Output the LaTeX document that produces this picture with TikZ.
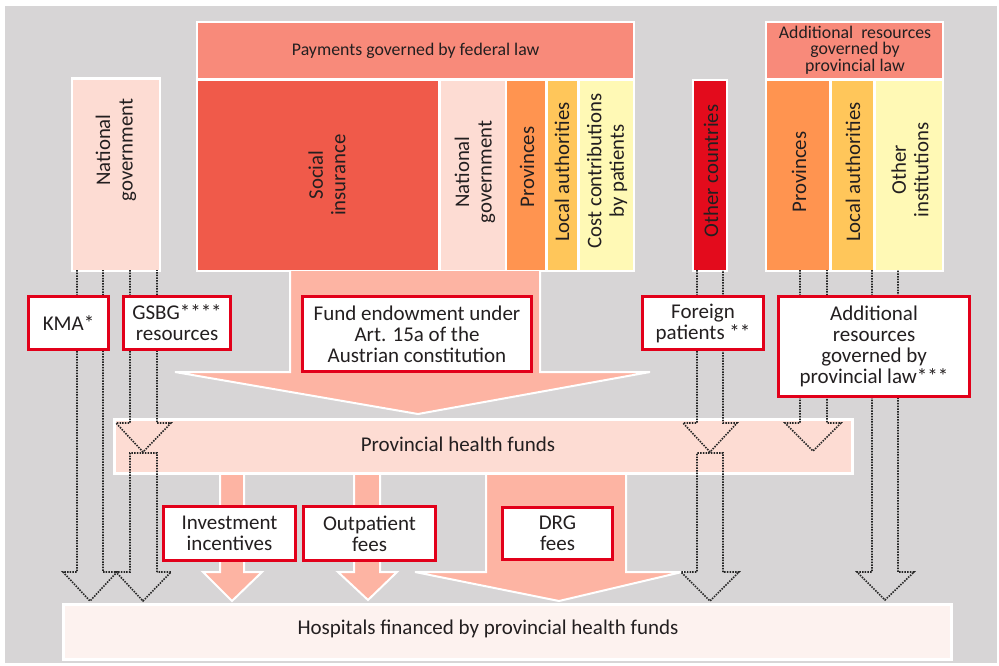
\documentclass[tikz,border=0pt]{standalone}
\usepackage{fontspec}
\setmainfont{Carlito}
\definecolor{bg}{HTML}{D7D5D6}
\definecolor{lpink}{HTML}{FDDCD3}
\definecolor{salmon}{HTML}{F88A7A}
\definecolor{socred}{HTML}{F05A4A}
\definecolor{orng}{HTML}{FF9450}
\definecolor{yorng}{HTML}{FFC65A}
\definecolor{lyel}{HTML}{FFF9B5}
\definecolor{cred}{HTML}{E30B1C}
\definecolor{arrowc}{HTML}{FDB4A3}
\definecolor{hosp}{HTML}{FDF2EF}
\definecolor{redb}{HTML}{E2001A}
\definecolor{txt}{HTML}{231F20}
\begin{document}
\begin{tikzpicture}[x=1pt,y=-1pt]
\tikzset{
 backing/.style={fill=white, draw=none},
 blk/.style={draw=none, inner sep=0pt, anchor=north west},
 vtxt/.style={rotate=90, align=center, inner sep=0pt, font=\fontsize{20.8}{22.5}\selectfont, text=txt},
 htxt/.style={align=center, inner sep=0pt, font=\fontsize{21}{21}\selectfont, text=txt},
 hdtxt/.style={align=center, inner sep=0pt, font=\fontsize{17.8}{16.5}\selectfont, text=txt},
 lbl/.style={draw=redb, line width=3pt, fill=white, inner sep=0pt, align=center, font=\fontsize{21}{21}\selectfont, text=txt},
 framebox/.style={draw=white, line width=2.5pt, inner sep=0pt, anchor=north west},
 dots/.style={draw=black!85, line width=1.6pt, dash pattern=on 1.5pt off 1.2pt, line join=miter},
 bigarrow/.style={fill=arrowc, draw=white, line width=2pt, line join=miter},
}
% background
\fill[white] (0,0) rectangle (999,665);
\useasboundingbox (0,0) rectangle (999,665);
\fill[bg] (5,6) rectangle (997,663);

% white backings of top groups
\fill[backing] (71,77) rectangle (161,272);
\fill[backing] (196,21) rectangle (635,272);
\fill[backing] (692,79) rectangle (728,272);
\fill[backing] (765,21) rectangle (944,272);

% national government (left)
\node[blk, fill=lpink, minimum width=86pt, minimum height=190pt] (ng) at (73,80) {};
\node[vtxt] (ngt) at (116,150) {National\\government};

% federal law block
\node[blk, fill=salmon, minimum width=435pt, minimum height=55pt] (fed) at (198,23) {};
\node[hdtxt] (fedt) at (fed.center) {Payments governed by federal law};
\node[blk, fill=socred, minimum width=240pt, minimum height=189pt] (si) at (198,81) {};
\node[vtxt] (sit) at (327,175) {Social\\insurance};
\node[blk, fill=lpink, minimum width=64pt, minimum height=189pt] (ngf) at (441,81) {};
\node[vtxt] (ngft) at (475,172) {National\\government};
\node[blk, fill=orng, minimum width=38pt, minimum height=189pt] (pv) at (507,81) {};
\node[vtxt] (pvt) at (527,167) {Provinces};
\node[blk, fill=yorng, minimum width=29pt, minimum height=189pt] (la) at (548,81) {};
\node[vtxt] (lat) at (562,172) {Local authorities};
\node[blk, fill=lyel, minimum width=53pt, minimum height=189pt] (cc) at (580,81) {};
\node[vtxt] (cct) at (607,171) {Cost contributions\\by patients};

% other countries
\node[blk, fill=cred, minimum width=32pt, minimum height=189pt] (oc) at (694,81) {};
\node[vtxt] (oct) at (711,171) {Other countries};

% additional resources block
\node[blk, fill=salmon, minimum width=175pt, minimum height=55pt] (addh) at (767,23) {};
\node[hdtxt] (addht) at (855,50) {Additional\ \ resources\\governed by\\provincial law};
\node[blk, fill=orng, minimum width=62pt, minimum height=189pt] (pv2) at (767,81) {};
\node[vtxt] (pv2t) at (799,172) {Provinces};
\node[blk, fill=yorng, minimum width=41pt, minimum height=189pt] (la2) at (832,81) {};
\node[vtxt] (la2t) at (853,172) {Local authorities};
\node[blk, fill=lyel, minimum width=66pt, minimum height=189pt] (oi) at (876,81) {};
\node[vtxt] (oit) at (910,170) {Other\\institutions};

% solid arrows
\draw[bigarrow] (290,271) -- (290,372) -- (175,372) -- (418,414) -- (650,372) -- (540,372) -- (540,271);
\draw[bigarrow] (220,472) -- (220,572) -- (203,572) -- (232,601) -- (262,572) -- (244,572) -- (244,472);
\draw[bigarrow] (354,472) -- (354,572) -- (338,572) -- (368,600) -- (397,572) -- (380,572) -- (380,472);
\draw[bigarrow] (486,472) -- (486,572) -- (415,572) -- (559,601) -- (682,572) -- (626,572) -- (626,472);

% provincial health funds and hospitals
\node[framebox, fill=lpink, minimum width=738pt, minimum height=54pt] (phf) at (113,418) {};
\node[htxt] (phft) at (458,444) {Provincial health funds};
\node[framebox, fill=hosp, minimum width=888pt, minimum height=55pt] (hos) at (62,603) {};
\node[htxt] (host) at (488,629) {Hospitals financed by provincial health funds};

% dotted hollow arrows
\draw[dots] (77,270) -- (77,572) -- (63,572) -- (90,601) -- (117,572) -- (103,572) -- (103,270);
\draw[dots] (130,270) -- (130,423) -- (116,423) -- (143,452) -- (171,423) -- (157,423) -- (157,270);
\draw[dots] (157,572) -- (157,453) -- (130,453) -- (130,572) -- (116,572) -- (143,601) -- (171,572) -- cycle;
\draw[dots] (697,270) -- (697,423) -- (683,423) -- (710,452) -- (737,423) -- (723,423) -- (723,270);
\draw[dots] (723,572) -- (723,453) -- (697,453) -- (697,572) -- (681,572) -- (710,601) -- (739,572) -- cycle;
\draw[dots] (800,270) -- (800,423) -- (785,423) -- (813,451) -- (841,423) -- (827,423) -- (827,270);
\draw[dots] (872,270) -- (872,572) -- (857,572) -- (885,600) -- (914,572) -- (898,572) -- (898,270);

% label boxes
\node[lbl, minimum width=80pt, minimum height=53pt] (kma) at (68.5,323) {KMA*};
\node[lbl, minimum width=107pt, minimum height=53pt] (gsbg) at (177,323) {GSBG****\\resources};
\node[lbl, minimum width=229pt, minimum height=75pt] (fund) at (417,334) {Fund endowment under\\Art. 15a of the\\Austrian constitution};
\node[lbl, minimum width=121pt, minimum height=53pt] (fp) at (703,323) {Foreign\\patients **};
\node[lbl, minimum width=191pt, minimum height=100pt] (adr) at (874,346.5) {Additional\\resources\\governed by\\provincial law***};
\node[lbl, minimum width=132pt, minimum height=54pt] (inv) at (229.5,533.5) {Investment\\incentives};
\node[lbl, minimum width=132pt, minimum height=54pt] (outp) at (369.5,533.5) {Outpatient\\fees};
\node[lbl, minimum width=110pt, minimum height=52pt] (drg) at (557.5,533.5) {DRG\\fees};
\end{tikzpicture}
\end{document}
